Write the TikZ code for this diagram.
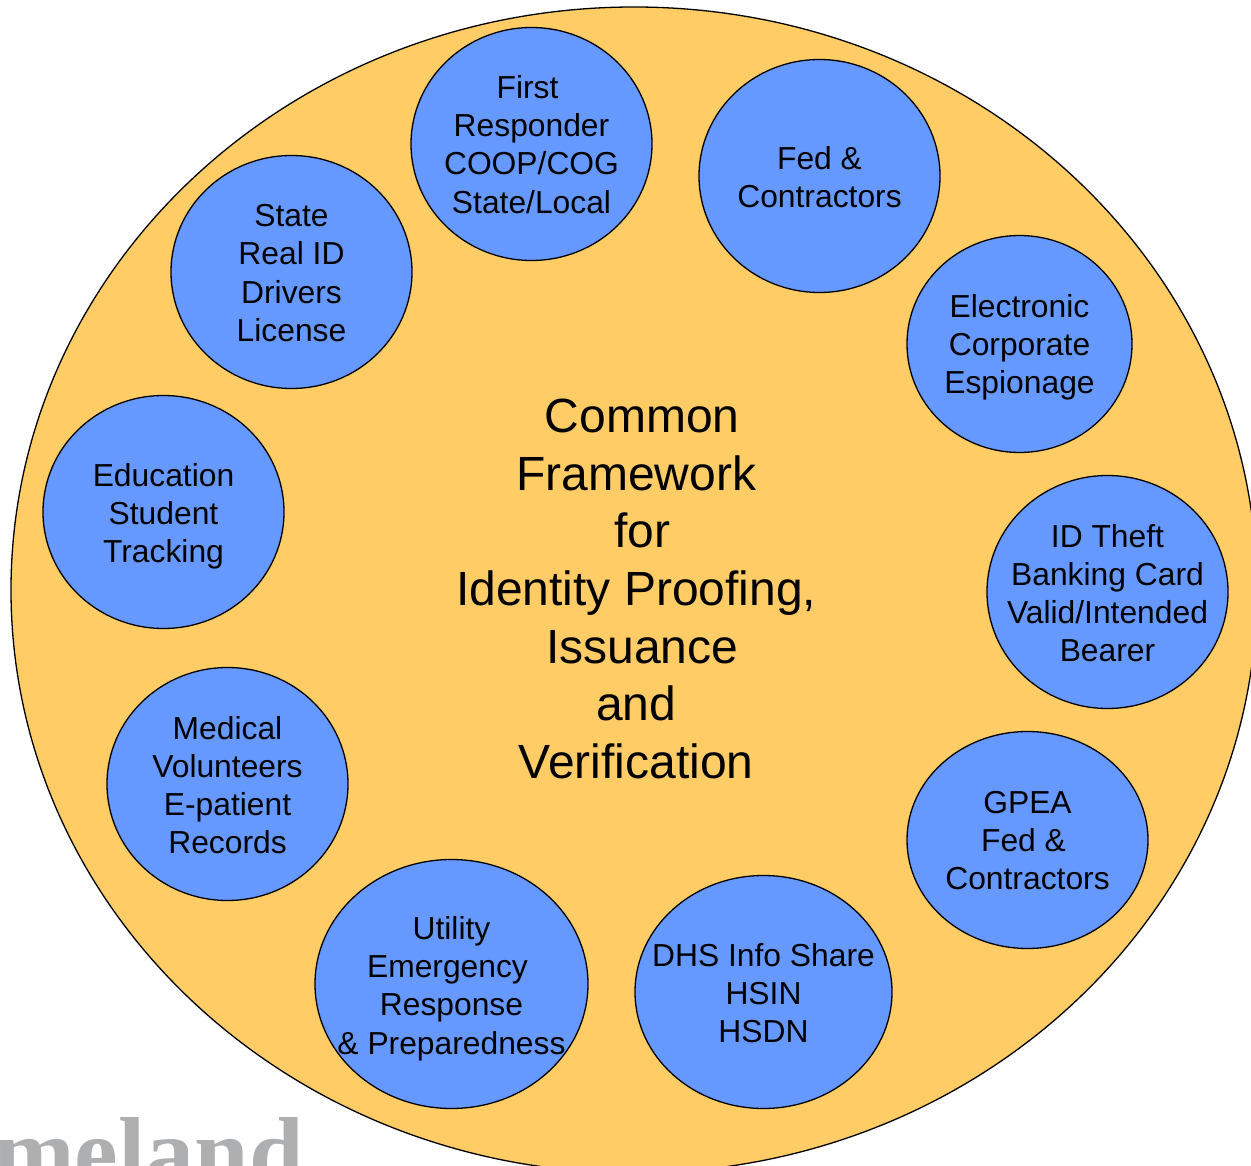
\documentclass[tikz,border=0pt]{standalone}
\usepackage{fontspec}
\setmainfont{Liberation Sans}
\newfontfamily\logofont{Liberation Serif}
\definecolor{disc}{HTML}{FFCC66}
\definecolor{blob}{HTML}{6699FF}
\definecolor{logo}{HTML}{AEAFB1}
\usetikzlibrary{shapes.geometric}
\tikzset{
 lbl/.style={align=center,font=\fontsize{31.8}{38.2}\selectfont,inner sep=0pt},
 x=1pt,y=-1pt
}
\newcommand{\shl}[2]{\mbox{#2\kern#1pt}}
\newcommand{\shr}[2]{\mbox{\kern#1pt #2}}
\newcommand{\blobat}[8]{%
 \node[ellipse,draw=black,line width=1.3pt,fill=blob,minimum width=#3pt,minimum height=#4pt,inner sep=0pt] (#5) at (#1,#2) {};
 \node[lbl] (#5t) at (#6,#7) {#8};}
\begin{document}
\begin{tikzpicture}
\useasboundingbox (0,0) rectangle (1251,1166);
\begin{scope}
\clip (0,0) rectangle (1251,1166);
\node[ellipse,draw=black,line width=1.3pt,fill=disc,minimum width=1246pt,minimum height=1166pt,inner sep=0pt] (disc) at (634,590) {};
\node[anchor=base west,inner sep=0pt,text=logo,font=\logofont\bfseries\fontsize{98}{98}\selectfont] (logo) at (-56,1185) {omeland};
\end{scope}
\blobat{531.5}{144}{241}{233}{a}{531.5}{144.5}{\shl{8}{First}\\Responder\\COOP/COG\\State/Local}
\blobat{819.5}{176}{241}{233}{b}{819.5}{177}{Fed \&\\Contractors}
\blobat{1019.5}{344}{225}{217}{c}{1019.5}{347.5}{Electronic\\Corporate\\Espionage}
\blobat{1107.5}{592}{241}{233}{d}{1107.5}{593}{ID Theft\\Banking Card\\Valid/Intended\\Bearer}
\blobat{1027.5}{840}{241}{217}{e}{1027.5}{840.5}{GPEA\\\shl{8}{Fed \&}\\Contractors}
\blobat{763.5}{992}{257}{233}{f}{763.5}{993}{DHS Info Share\\HSIN\\HSDN}
\blobat{451.5}{984}{273}{249}{g}{451.5}{988.5}{Utility\\\shl{8}{Emergency}\\Response\\\& Preparedness}
\blobat{227.5}{784}{241}{233}{h}{227.5}{785}{Medical\\Volunteers\\E-patient\\Records}
\blobat{163.5}{512}{241}{233}{i}{163.5}{516}{Education\\Student\\Tracking}
\blobat{291.5}{272}{241}{233}{j}{291.5}{273}{State\\Real ID\\Drivers\\License}
\node[align=center,inner sep=0pt,font=\fontsize{48}{57.7}\selectfont] (title) at (636.3,589) {\shr{12}{Common}\\Framework\\\shr{12}{for}\\Identity Proofing,\\\shr{12}{Issuance}\\and\\Verification};
\end{tikzpicture}
\end{document}
